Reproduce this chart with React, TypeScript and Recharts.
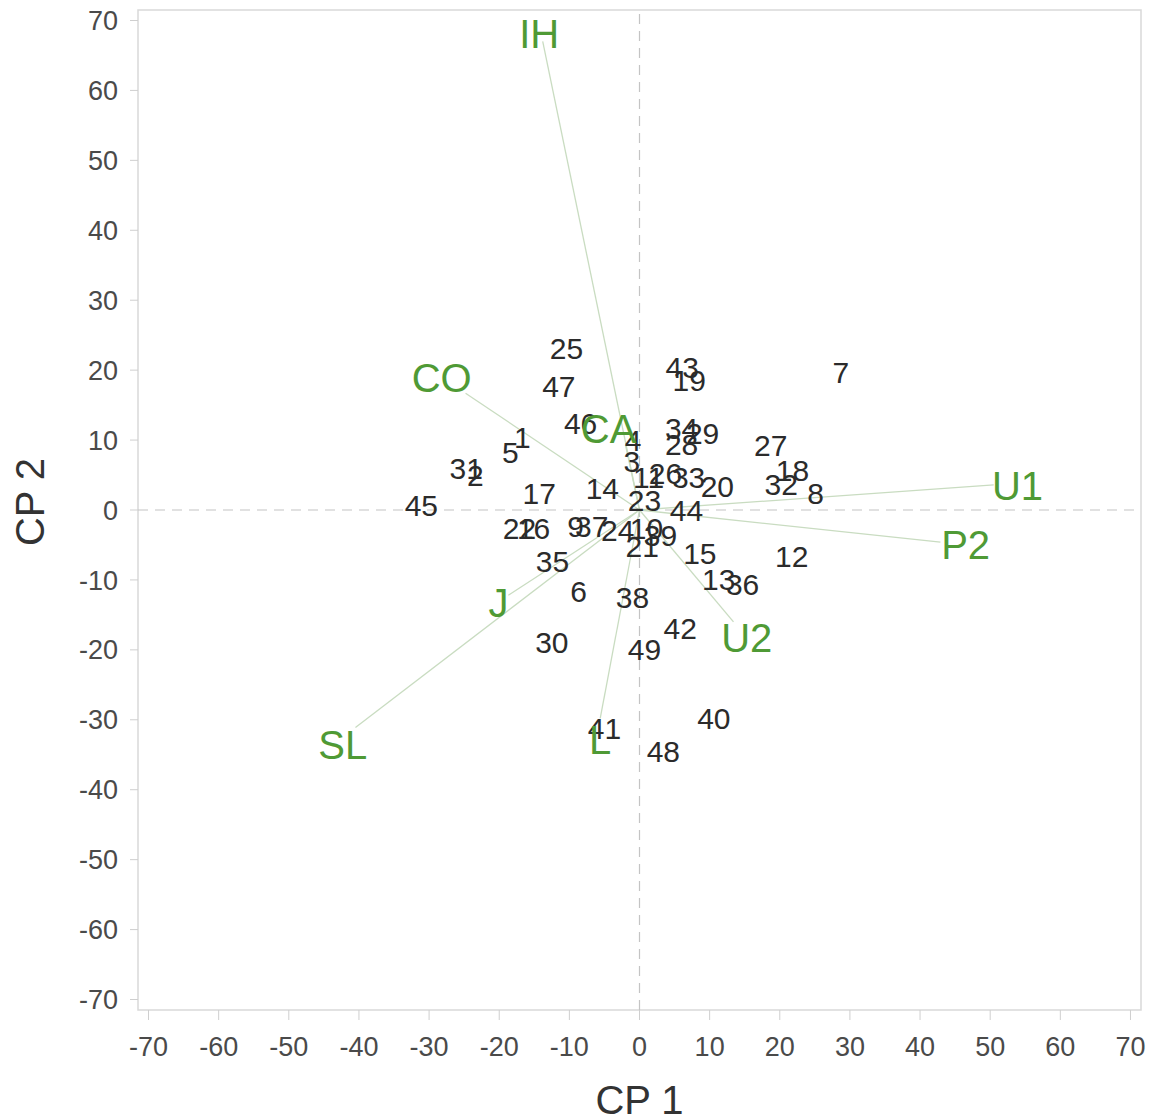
import React from 'react';
import { ScatterChart, Scatter, XAxis, YAxis, ReferenceLine, ReferenceArea } from 'recharts';

const FONT = '"Liberation Sans", Arial, Helvetica, sans-serif';

const pointIds = ['1','2','3','4','5','6','7','8','9','10','11','12','13','14','15','16','17','18','19','20','21','22','23','24','25','26','27','28','29','30','31','32','33','34','35','36','37','38','39','40','41','42','43','44','45','46','47','48','49'];
const pointX = [-16.7,-23.4,-1.1,-0.9,-18.4,-8.7,28.7,25.1,-9.1,1.0,1.3,21.7,11.3,-5.3,8.6,-15.1,-14.3,21.8,7.1,11.1,0.4,-17.1,0.7,-3.1,-10.4,3.7,18.7,6.0,9.0,-12.5,-24.7,20.2,7.0,6.0,-12.4,14.7,-6.8,-1.0,3.0,10.6,-5.0,5.8,6.1,6.7,-31.1,-8.4,-11.5,3.4,0.7];
const pointY = [10.3,4.9,7.0,9.9,8.2,-11.7,19.6,2.3,-2.4,-2.7,4.7,-6.7,-9.9,3.1,-6.2,-2.6,2.4,5.6,18.5,3.3,-5.2,-2.6,1.3,-2.9,23.1,5.2,9.2,9.4,10.9,-18.9,6.0,3.7,4.6,11.7,-7.3,-10.7,-2.4,-12.5,-3.6,-29.8,-31.2,-16.9,20.4,-0.1,0.6,12.4,17.6,-34.6,-20.0];

const varNames = ['IH','CO','CA','U1','P2','U2','L','SL','J'];
const varTipX = [-13.8,-24.8,-2.0,50.5,42.9,13.4,-5.6,-40.5,-18.7];
const varTipY = [67.0,16.7,9.3,3.6,-4.6,-16.0,-29.8,-31.1,-12.2];
const varLabelX = [-14.3,-28.2,-4.4,53.9,46.5,15.3,-5.6,-42.3,-20.1];
const varLabelY = [68.0,18.9,11.6,3.4,-5.0,-18.3,-32.9,-33.6,-13.3];

const axisTicks = [-70,-60,-50,-40,-30,-20,-10,0,10,20,30,40,50,60,70];
const DOMAIN: [number, number] = [-71.5, 71.5];

const points = pointIds.map((id, i) => ({ id, x: pointX[i], y: pointY[i] }));
const varLabels = varNames.map((id, i) => ({ id, x: varLabelX[i], y: varLabelY[i] }));

const GREEN = '#4f9a35';

const PointLabel = (props: any) => (
  <text x={props.cx} y={props.cy} textAnchor="middle" dominantBaseline="central"
    fontSize={30} fill="#2b2b2b" fontFamily={FONT}>{props.payload.id}</text>
);

const VarLabel = (props: any) => (
  <text x={props.cx} y={props.cy} textAnchor="middle" dominantBaseline="central"
    fontSize={40} fill={GREEN} fontFamily={FONT}>{props.payload.id}</text>
);

export default function App() {
  const tickStyle = { fill: '#4a4a4a', fontSize: 27, fontFamily: FONT };
  return (
    <ScatterChart width={1154} height={1112} margin={{ top: 2, right: 21, left: 0, bottom: 0 }}>
      <XAxis type="number" dataKey="x" domain={DOMAIN} ticks={axisTicks} allowDataOverflow
        height={110} tick={tickStyle} tickSize={10} tickMargin={17}
        tickLine={{ stroke: '#cfcfcf' }} axisLine={false} interval={0}
        label={{
          content: (p: any) => {
            const vb = p.viewBox;
            return <text x={vb.x + vb.width / 2} y={vb.y + vb.height - 6} textAnchor="middle"
              fontSize={40} fill="#333" fontFamily={FONT}>CP 1</text>;
          }
        }} />
      <YAxis type="number" dataKey="y" domain={DOMAIN} ticks={axisTicks} allowDataOverflow
        width={130} tick={tickStyle} tickSize={8} tickMargin={12}
        tickLine={{ stroke: '#cfcfcf' }} axisLine={false} interval={0}
        label={{
          content: (p: any) => {
            const vb = p.viewBox;
            const cx = 22;
            const cy = vb.y + vb.height / 2 - 8;
            return <text x={cx} y={cy} textAnchor="middle" dominantBaseline="central"
              transform={`rotate(-90, ${cx}, ${cy})`} fontSize={40} fill="#333" fontFamily={FONT}>CP 2</text>;
          }
        }} />
      <ReferenceArea x1={DOMAIN[0]} x2={DOMAIN[1]} y1={DOMAIN[0]} y2={DOMAIN[1]}
        fill="none" stroke="#d9d9d9" strokeWidth={1.5} ifOverflow="visible" />
      <ReferenceLine x={0} stroke="#c4c4c4" strokeDasharray="10 7" strokeWidth={1.2} />
      <ReferenceLine y={0} stroke="#c4c4c4" strokeDasharray="10 7" strokeWidth={1.2} />
      {varNames.map((n, i) => (
        <ReferenceLine key={n} segment={[{ x: 0, y: 0 }, { x: varTipX[i], y: varTipY[i] }]}
          stroke="#c9dcc1" strokeWidth={1.3} ifOverflow="visible" />
      ))}
      <Scatter data={points} shape={PointLabel} isAnimationActive={false} />
      <Scatter data={varLabels} shape={VarLabel} isAnimationActive={false} />
    </ScatterChart>
  );
}
